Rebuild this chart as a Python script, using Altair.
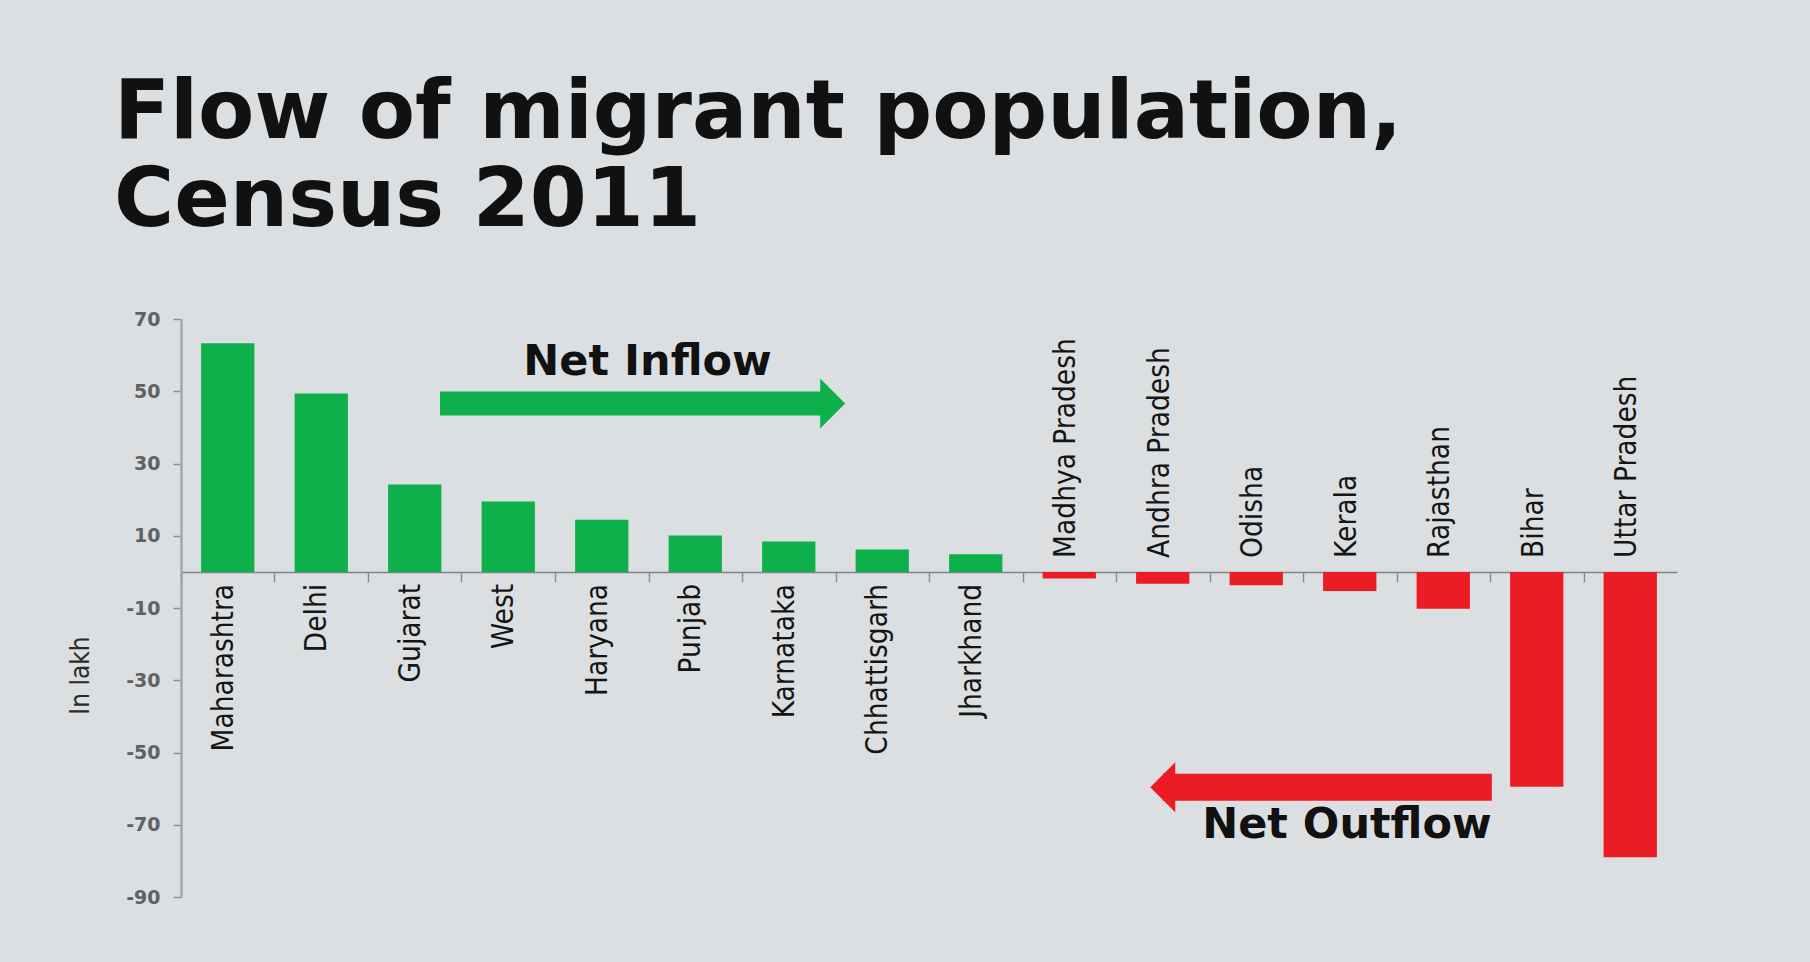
import altair as alt
import pandas as pd

# ---------------- data ----------------
states = ["Maharashtra", "Delhi", "Gujarat", "West", "Haryana", "Punjab",
          "Karnataka", "Chhattisgarh", "Jharkhand", "Madhya Pradesh",
          "Andhra Pradesh", "Odisha", "Kerala", "Rajasthan", "Bihar",
          "Uttar Pradesh"]
net_flow = [63.3, 49.4, 24.2, 19.5, 14.4, 10.1, 8.4, 6.2, 4.9,
            -1.8, -3.3, -3.7, -5.3, -10.2, -59.5, -79.0]

y_ticks = [70, 50, 30, 10, -10, -30, -50, -70, -90]
y_min, y_max = -90, 70

# annotation arrows, x in "band index" units (0 .. number of states)
arrow_labels = ["Net Inflow", "Net Outflow"]
arrow_tail = [2.77, 14.02]
arrow_head = [6.97, 10.50]
arrow_level = [46.6, -59.6]
arrow_width = [24, 27]
arrow_shape = ["M-0.5,-1L0.5,0L-0.5,1Z", "M0.5,-1L-0.5,0L0.5,1Z"]
text_x = [4.99, 12.47]
text_y = [54.4, -73.8]

# ---------------- style ----------------
GREEN = "#0db04b"
RED = "#ec1c24"
BG = "#dcdfe1"
COND_FONT = "DejaVu Sans Condensed, Liberation Sans"
W, H = 1496, 578
STEP = W / len(states)

df = pd.DataFrame({"state": states, "value": net_flow})
arrows = pd.DataFrame({
    "label": arrow_labels, "tail": arrow_tail, "head": arrow_head,
    "level": arrow_level, "sw": arrow_width, "shape": arrow_shape,
    "color": [GREEN, RED], "tx": text_x, "ty": text_y,
})

band_scale = alt.Scale(domain=states, paddingInner=0.43, paddingOuter=0.215)
y_scale = alt.Scale(domain=[y_min, y_max], nice=False, zero=False)
zero_offset = -H * (0 - y_min) / (y_max - y_min)

bars = alt.Chart(df).mark_bar().encode(
    x=alt.X("state:N", scale=band_scale,
            axis=alt.Axis(labels=False, title=None, tickOffset=-STEP / 2,
                          tickSize=10, tickColor="#8a8f93", tickWidth=1.5,
                          domainColor="#7f8488", domainWidth=1.5,
                          offset=zero_offset, grid=False)),
    y=alt.Y("value:Q", scale=y_scale,
            axis=alt.Axis(values=y_ticks, title="In lakh",
                          titleFont=COND_FONT, titleFontSize=26,
                          titleFontWeight="normal", titleColor="#2b2b2b",
                          titleAngle=270, titleX=-101, titleY=356,
                          titleBaseline="middle", titleAlign="center",
                          labelExpr="'' + datum.value",
                          labelFont="DejaVu Sans", labelFontWeight="bold",
                          labelFontSize=19, labelColor="#5f6265",
                          labelPadding=13, tickSize=8, tickColor="#8d9296",
                          tickWidth=1.5, domainColor="#a3a7aa",
                          domainWidth=2.5, grid=False)),
    color=alt.when(alt.datum.value > 0).then(alt.value(GREEN)).otherwise(alt.value(RED)),
)

label_base = alt.Chart(df).transform_calculate(zero="0")

pos_labels = label_base.transform_filter("datum.value > 0").mark_text(
    angle=270, align="right", baseline="middle", dx=-12, dy=-4,
    font=COND_FONT, fontSize=29.5, color="#151515",
).encode(
    x=alt.X("state:N", scale=band_scale, axis=None),
    y=alt.Y("zero:Q", scale=y_scale, axis=None),
    text="state:N",
)

neg_labels = label_base.transform_filter("datum.value < 0").mark_text(
    angle=270, align="left", baseline="middle", dx=14, dy=-3,
    font=COND_FONT, fontSize=29.5, color="#151515",
).encode(
    x=alt.X("state:N", scale=band_scale, axis=None),
    y=alt.Y("zero:Q", scale=y_scale, axis=None),
    text="state:N",
)

idx_scale = alt.Scale(domain=[0, len(states)], nice=False, zero=False)

shafts = alt.Chart(arrows).mark_rule(strokeCap="butt").encode(
    x=alt.X("tail:Q", scale=idx_scale, axis=None),
    x2="head:Q",
    y=alt.Y("level:Q", scale=y_scale, axis=None),
    color=alt.Color("color:N", scale=None),
    strokeWidth=alt.StrokeWidth("sw:Q", scale=None),
)

heads = alt.Chart(arrows).mark_point(filled=True, opacity=1, size=2500).encode(
    x=alt.X("head:Q", scale=idx_scale, axis=None),
    y=alt.Y("level:Q", scale=y_scale, axis=None),
    color=alt.Color("color:N", scale=None),
    shape=alt.Shape("shape:N", scale=None),
)

arrow_text = alt.Chart(arrows).mark_text(
    align="center", baseline="alphabetic", font="DejaVu Sans",
    fontWeight="bold", fontSize=43, color="#111111",
).encode(
    x=alt.X("tx:Q", scale=idx_scale, axis=None),
    y=alt.Y("ty:Q", scale=y_scale, axis=None),
    text="label:N",
)

chart = alt.layer(
    bars, pos_labels, neg_labels, shafts, heads, arrow_text
).resolve_scale(x="independent").resolve_axis(y="independent").properties(
    width=W, height=H,
    autosize=alt.AutoSizeParams(type="none"),
    padding={"left": 181, "top": 319, "right": 133, "bottom": 65},
    background=BG,
    title=alt.TitleParams(
        text=["Flow of migrant population,", "Census 2011"],
        anchor="start", frame="group", dx=-67, offset=67,
        fontSize=82, lineHeight=88, font="DejaVu Sans",
        fontWeight="bold", color="#111111",
    ),
).configure_view(stroke=None)

chart.save("out.html", embed_options={"renderer": "svg", "actions": False})
